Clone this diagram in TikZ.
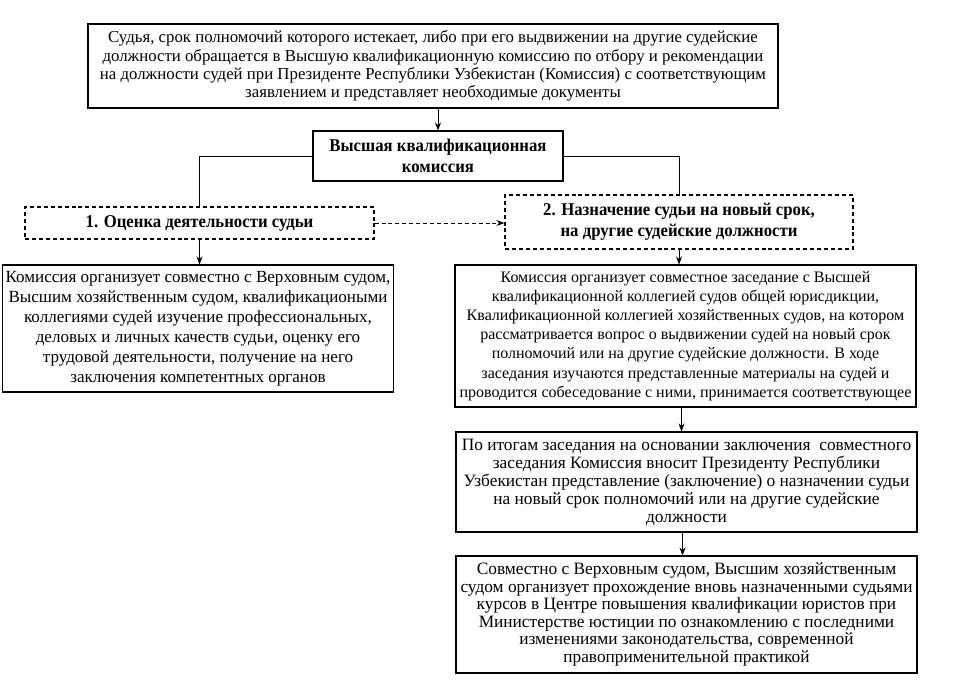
\documentclass[tikz,border=0pt]{standalone}
\usepackage{fontspec}
\setmainfont{Liberation Serif}
\newfontfamily\boldcond[FakeStretch=0.93]{Liberation Serif}
\usetikzlibrary{arrows.meta, positioning}

\begin{document}
\begin{tikzpicture}[
    x=0.75pt, y=-0.75pt,
    box/.style={
        rectangle,
        draw,
        line width=0.8pt,
        align=center,
        inner sep=2pt,
        font=\fontsize{12.6}{13.6}\selectfont
    },
    stage/.style={
        rectangle,
        draw,
        dashed,
        dash pattern=on 3pt off 2.2pt,
        line width=0.9pt,
        align=center,
        inner sep=2pt,
        font=\boldcond\bfseries\fontsize{13.5}{16}\selectfont
    },
    arrow/.style={
        -{Stealth[length=6pt,width=4.5pt]},
        line width=0.6pt
    },
    link/.style={
        line width=0.6pt
    }
]

\useasboundingbox (0,0) rectangle (955,685);

% Application of the judge
\node[box, minimum width=517.5pt, minimum height=63pt] (appl) at (433,66) {
    Судья, срок полномочий которого истекает, либо при его выдвижении на другие судейские\\
    должности обращается в Высшую квалификационную комиссию по отбору и рекомендации\\
    на должности судей при Президенте Республики Узбекистан (Комиссия) с соответствующим\\
    заявлением и представляет необходимые документы};

% Commission
\node[box, minimum width=187.5pt, minimum height=37.5pt,
      font=\boldcond\bfseries\fontsize{13.5}{16}\selectfont] (komis) at (438,156) {
    Высшая квалификационная\\комиссия};

% Two stages
\node[stage, minimum width=261.75pt, minimum height=24pt] (ocenka) at (199.5,223) {
    1. Оценка деятельности судьи};
\node[stage, minimum width=261pt, minimum height=40.5pt] (naznach) at (679,222) {
    2. Назначение судьи на новый срок,\\на другие судейские должности};

% Left branch
\node[box, minimum width=292.5pt, minimum height=95.25pt,
      font=\fontsize{12.8}{15}\selectfont] (izuch) at (198,328.5) {
    Комиссия организует совместно с Верховным судом,\\
    Высшим хозяйственным судом, квалификациоными\\
    коллегиями судей изучение профессиональных,\\
    деловых и личных качеств судьи, оценку его\\
    трудовой деятельности, получение на него\\
    заключения компетентных органов};

% Right branch
\node[box, minimum width=345.75pt, minimum height=106.5pt,
      font=\fontsize{12}{14.4}\selectfont] (zased) at (685.5,336) {
    Комиссия организует совместное заседание с Высшей\\
    квалификационной коллегией судов общей юрисдикции,\\
    Квалификационной коллегией хозяйственных судов, на котором\\
    рассматривается вопрос о выдвижении судей на новый срок\\
    полномочий или на другие судейские должности. В ходе\\
    заседания изучаются представленные материалы на судей и\\
    проводится собеседование с ними, принимается соответствующее};
\node[box, minimum width=345.75pt, minimum height=75pt,
      font=\fontsize{13}{13.5}\selectfont] (predst) at (686.5,482) {
    По итогам заседания на основании заключения\ \ совместного\\
    заседания Комиссия вносит Президенту Республики\\
    Узбекистан представление (заключение) о назначении судьи\\
    на новый срок полномочий или на другие судейские\\
    должности};
\node[box, minimum width=345.75pt, minimum height=87.75pt,
      font=\fontsize{13}{13.2}\selectfont] (kursy) at (686.5,614.5) {
    Совместно с Верховным судом, Высшим хозяйственным\\
    судом организует прохождение вновь назначенными судьями\\
    курсов в Центре повышения квалификации юристов при\\
    Министерстве юстиции по ознакомлению с последними\\
    изменениями законодательства, современной\\
    правоприменительной практикой};

% Arrows
\draw[arrow] (komis.north |- appl.south) -- (komis.north);
\draw[link] (komis.west) -| (ocenka.north);
\draw[link] (komis.east) -| (naznach.north);
\draw[arrow, dashed, dash pattern=on 3pt off 2.2pt] (ocenka.east) -- (naznach.west |- ocenka.east);
\draw[arrow] (ocenka.south) -- (ocenka.south |- izuch.north);
\draw[arrow] (naznach.south) -- (naznach.south |- zased.north);
\draw[arrow] ([xshift=-3pt]zased.south) -- ([xshift=-3pt]zased.south |- predst.north);
\draw[arrow] ([xshift=-3pt]predst.south) -- ([xshift=-3pt]predst.south |- kursy.north);

\end{tikzpicture}
\end{document}
